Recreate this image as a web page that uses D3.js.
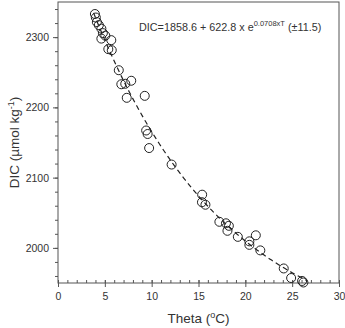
<!DOCTYPE html>
<html>
<head>
<meta charset="utf-8">
<script src="https://cdn.jsdelivr.net/npm/d3@7/dist/d3.min.js"></script>
<style>
  body { margin: 0; background: #fff; }
  svg text { font-family: "Liberation Sans", Arial, sans-serif; fill: #333; }
</style>
</head>
<body>
<svg id="chart"></svg>
<script>
const width = 345;
const height = 328;
const margin = {top: 2, right: 6, bottom: 45, left: 58};

// measured samples: potential temperature (°C) and DIC (µmol/kg)
const theta = [3.94, 4.04, 4.15, 4.36, 4.63, 4.79, 5.05, 4.63, 5.69, 5.37, 5.74,
  6.49, 6.76, 7.18, 7.82, 7.34, 9.26, 9.41, 9.57, 9.73, 12.13,
  15.39, 15.37, 15.74, 17.23, 17.93, 18.24, 18.09, 19.2, 20.43, 20.43,
  21.12, 21.6, 24.1, 24.89, 26.06, 26.2];
const dic = [2332.9, 2327.9, 2321.4, 2317.1, 2312.1, 2305.7, 2302.1, 2297.9, 2295.7, 2282.9, 2281.4,
  2252.9, 2232.9, 2233.6, 2237.9, 2213.6, 2216.4, 2167.1, 2162.1, 2142.1, 2118.6,
  2075.7, 2065, 2061.4, 2037.1, 2035, 2031.4, 2024.3, 2015.7, 2009.3, 2004.3,
  2017.9, 1996.4, 1970.7, 1957.1, 1952.9, 1950.7];

// fit parameters shown in the annotation
const fitA = 1858.6, fitB = 622.8, fitK = -0.0708;
const fitRange = [3.8, 26.6];

const xTicks = [0, 5, 10, 15, 20, 25, 30];
const yTicks = [2000, 2100, 2200, 2300];

const svg = d3.select('#chart')
    .attr('width', width)
    .attr('height', height);

const x = d3.scaleLinear([0, 30], [margin.left, width - margin.right]);
const y = d3.scaleLinear([1950, 2350], [height - margin.bottom, margin.top]);

const axisColor = '#555';

// frame
svg.append('rect')
    .attr('x', x(0)).attr('y', y(2350))
    .attr('width', x(30) - x(0))
    .attr('height', y(1950) - y(2350))
    .attr('fill', 'none')
    .attr('stroke', axisColor)
    .attr('stroke-width', 1);

// x minor ticks (inside)
svg.append('g')
    .attr('transform', `translate(0,${y(1950)})`)
    .call(d3.axisBottom(x).tickValues(d3.range(0, 31, 1)).tickSize(-3).tickFormat(''))
    .call(g => g.select('.domain').remove())
    .call(g => g.selectAll('line').attr('stroke', axisColor));

// x major ticks
const xAxis = svg.append('g')
    .attr('transform', `translate(0,${y(1950)})`)
    .call(d3.axisBottom(x).tickValues(xTicks).tickSize(4).tickPadding(6))
    .call(g => g.select('.domain').remove());
xAxis.selectAll('line').attr('stroke', axisColor).attr('y1', -3);
xAxis.selectAll('text').attr('font-size', '10.5px').style('font-family', '"Liberation Sans", Arial, sans-serif').attr('fill', '#333');

// y minor ticks
svg.append('g')
    .attr('transform', `translate(${x(0)},0)`)
    .call(d3.axisLeft(y).tickValues(d3.range(1960, 2350, 20)).tickSize(3).tickFormat(''))
    .call(g => g.select('.domain').remove())
    .call(g => g.selectAll('line').attr('stroke', axisColor));

// y major ticks
const yAxis = svg.append('g')
    .attr('transform', `translate(${x(0)},0)`)
    .call(d3.axisLeft(y).tickValues(yTicks).tickSize(5).tickPadding(4).tickFormat(d3.format('d')))
    .call(g => g.select('.domain').remove());
yAxis.selectAll('line').attr('stroke', axisColor);
yAxis.selectAll('text').attr('font-size', '10.5px').style('font-family', '"Liberation Sans", Arial, sans-serif').attr('fill', '#333');

// fitted curve
const fitT = d3.range(fitRange[0], fitRange[1] + 0.01, 0.2);
svg.append('path')
    .datum(fitT)
    .attr('fill', 'none')
    .attr('stroke', '#222')
    .attr('stroke-width', 1.2)
    .attr('stroke-dasharray', '5,3.5')
    .attr('d', d3.line()
      .x(t => x(t))
      .y(t => y(fitA + fitB * Math.exp(fitK * t))));

// samples
svg.append('g')
    .selectAll('circle')
    .data(theta)
    .join('circle')
      .attr('cx', d => x(d))
      .attr('cy', (d, i) => y(dic[i]))
      .attr('r', 4.5)
      .attr('fill', 'none')
      .attr('stroke', '#222')
      .attr('stroke-width', 1);

// annotation
const note = svg.append('text')
    .attr('x', 139).attr('y', 31)
    .attr('font-size', '10.8px');
note.append('tspan').text('DIC=1858.6 + 622.8 x e');
note.append('tspan').attr('font-size', '7.5px').attr('dy', -5).text('0.0708xT');
note.append('tspan').attr('dy', 5).text(' (±11.5)');

// axis titles
const xt = svg.append('text')
    .attr('x', (x(0) + x(30)) / 2)
    .attr('y', 323)
    .attr('text-anchor', 'middle')
    .attr('font-size', '13.5px');
xt.append('tspan').text('Theta (');
xt.append('tspan').attr('font-size', '9px').attr('dy', -5.5).text('o');
xt.append('tspan').attr('dy', 5.5).text('C)');

const yt = svg.append('text')
    .attr('transform', `translate(19,${(y(1950) + y(2350)) / 2}) rotate(-90)`)
    .attr('text-anchor', 'middle')
    .attr('font-size', '13.5px');
yt.append('tspan').text('DIC (µmol kg');
yt.append('tspan').attr('font-size', '9px').attr('dy', -5.5).text('-1');
yt.append('tspan').attr('dy', 5.5).text(')');
</script>
</body>
</html>
